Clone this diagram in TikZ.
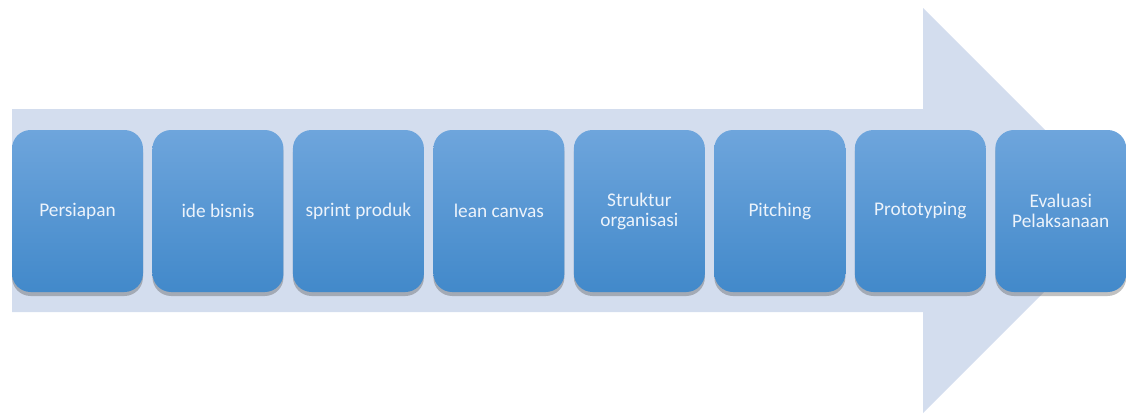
\documentclass[tikz,border=0pt]{standalone}
\usepackage{fontspec}
\setmainfont{Carlito}
\usepackage{tikz}
\usetikzlibrary{positioning,shadows}
\definecolor{arrowbg}{RGB}{211,221,238}
\definecolor{boxtop}{RGB}{110,165,220}
\definecolor{boxbot}{RGB}{66,137,202}
\definecolor{boxtext}{RGB}{236,243,251}

\begin{document}
\begin{tikzpicture}[x=0.75pt,y=-0.75pt,
  stage/.style={rounded corners=14pt, top color=boxtop, bottom color=boxbot,
    minimum width=98.25pt, minimum height=121.5pt, inner sep=0pt, outer sep=0pt,
    align=center, text=boxtext, font=\fontsize{14.5}{15}\selectfont,
    drop shadow={shadow xshift=0pt, shadow yshift=-3pt, opacity=0.35, fill=black!70}},
  node distance=7.1pt]
\useasboundingbox (0,0) rectangle (1126,414);
\fill[arrowbg] (12,109) -- (923,109) -- (923,8) -- (1125.5,210.5) -- (923,413) -- (923,312) -- (12,312) -- cycle;
\node[stage] (persiapan) at (77.5,211) {Persiapan};
\node[stage, right=of persiapan] (ide) {ide bisnis};
\node[stage, right=of ide] (sprint) {sprint produk};
\node[stage, right=of sprint] (lean) {lean canvas};
\node[stage, right=of lean] (struktur) {Struktur\\organisasi};
\node[stage, right=of struktur] (pitching) {Pitching};
\node[stage, right=of pitching] (proto) {Prototyping};
\node[stage, right=of proto] (evaluasi) {Evaluasi\\Pelaksanaan};
\end{tikzpicture}
\end{document}
